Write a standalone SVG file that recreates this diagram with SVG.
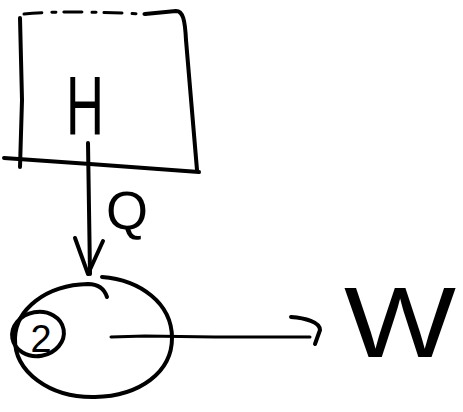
<svg xmlns="http://www.w3.org/2000/svg" width="463" height="412" viewBox="0 0 463 412">
  <style>
    .ink { fill: none; stroke: #000; stroke-width: 4; stroke-linecap: round; stroke-linejoin: round; }
    .thin { stroke-width: 3; }
    .lbl { font-family: "Liberation Sans", Arial, sans-serif; fill: #000; text-anchor: middle; }
  </style>
  <rect width="463" height="412" fill="#fff"/>

  <!-- reservoir box labelled H -->
  <g id="reservoir">
    <path class="ink thin" d="M24,14 C60,10 120,13 145,14" stroke-dasharray="18 10 4 8"/>
    <path class="ink" d="M145,14 L176,11 C183,11 185,20 186,40 L197,170"/>
    <path class="ink" d="M20,18 L22,100 L20,167"/>
    <path class="ink" d="M4,158 L90,164 L199,172"/>
    <text class="lbl" x="85" y="135" font-size="84" textLength="38" lengthAdjust="spacingAndGlyphs">H</text>
  </g>

  <!-- engine circle with marker 2 -->
  <g id="engine">
    <path class="ink" d="M107,297 C104,288 98,284 88,284 C45,285 16,310 15,338 C14,372 50,398 95,397 C140,396 172,372 172,338 C172,303 140,280 102,277"/>
    <ellipse class="ink" cx="38" cy="334" rx="26" ry="22" transform="rotate(-10 38 334)"/>
    <text class="lbl" x="41" y="352" font-size="38">2</text>
  </g>

  <!-- heat label -->
  <g id="heat">
    <text class="lbl" x="127" y="229" font-size="54">Q</text>
  </g>

  <!-- work label -->
  <g id="work">
    <text class="lbl" x="400" y="357" font-size="100" textLength="112" lengthAdjust="spacingAndGlyphs">W</text>
  </g>

  <!-- connectors -->
  <g id="connectors">
    <path class="ink" d="M88,143 L90,274"/>
    <path class="ink" d="M75,238 L88,274 L103,241"/>
    <path class="ink thin" d="M111,337 L145,336 L215,337 L310,337"/>
    <path class="ink" d="M291,317 C305,318 320,322 320,330 L315,344"/>
  </g>
</svg>
